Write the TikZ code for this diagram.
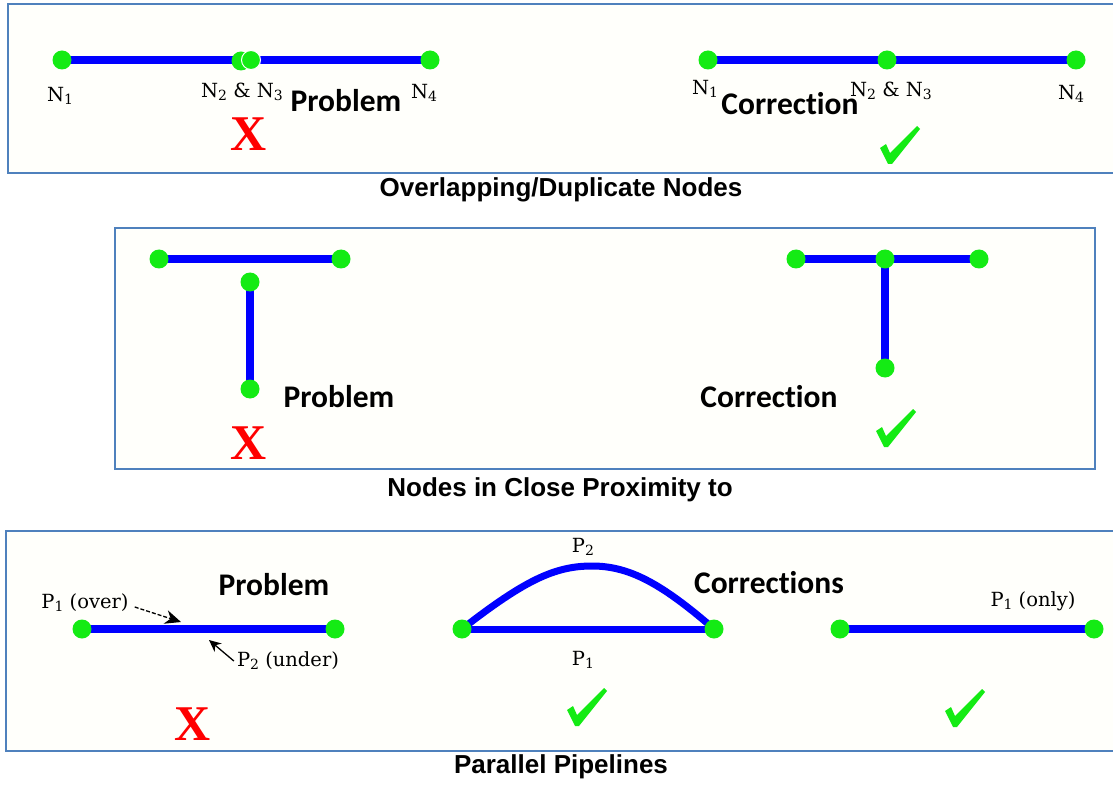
\documentclass[tikz,border=0pt]{standalone}
\usepackage{fontspec}
\setmainfont{DejaVu Serif}
\newfontfamily\calfont[Ligatures=NoCommon]{Carlito}
\newfontfamily\arialfont{Liberation Sans}
\usetikzlibrary{arrows.meta}
\pgfdeclarelayer{boxes}
\pgfdeclarelayer{lines}
\pgfsetlayers{boxes,lines,main}
\definecolor{boxblue}{RGB}{79,129,189}
\definecolor{dotgreen}{RGB}{20,235,20}
\definecolor{pipeblue}{RGB}{0,0,255}
\definecolor{cream}{RGB}{255,255,251}
\definecolor{xred}{RGB}{255,0,0}
\newcommand{\lsub}[1]{\raisebox{-0.3ex}{\fontsize{14}{14}\selectfont #1}}
\tikzset{
  dot/.style={circle,fill=dotgreen,minimum size=19pt,inner sep=0pt},
  pipe/.style={draw=pipeblue,line width=8pt},
  framebox/.style={draw=boxblue,line width=1.6pt,fill=cream},
  lbl/.style={font=\fontsize{19.5}{19.5}\selectfont,inner sep=0pt},
  big/.style={font=\fontsize{31.5}{31.5}\selectfont\calfont\bfseries,inner sep=0pt},
  ttl/.style={font=\fontsize{26}{26}\selectfont\arialfont\bfseries,inner sep=0pt},
  cross/.style={font=\fontsize{50}{50}\selectfont\bfseries\fontspec{Liberation Serif},text=xred,inner sep=0pt},
  chk/.pic={\fill[dotgreen] (-20,3) -- (-14,-1) -- (-10,8) -- (17,-19) -- (20,-16) -- (-8,19) -- (-12,19) -- cycle;}
}
\begin{document}
\begin{tikzpicture}[x=1pt,y=-1pt]
\useasboundingbox (0,0) rectangle (1113,786);
\begin{pgfonlayer}{boxes}
\fill[white] (0,0) rectangle (1113,786);
\filldraw[framebox] (1115,4) -- (8,4) -- (8,173) -- (1115,173);
\filldraw[framebox] (115,228) rectangle (1095,469);
\filldraw[framebox] (1115,531) -- (6,531) -- (6,751) -- (1115,751);
\end{pgfonlayer}

% ---- Box 1: Overlapping/Duplicate Nodes ----
\node[dot] (a1) at (62,60) {};
\node[dot] (a2) at (241,61) {};
\node[dot,draw=white,line width=1pt] (a3) at (251,60) {};
\node[dot] (a4) at (430,60) {};
\node[lbl] (la1) at (60,96) {N\lsub{1}};
\node[lbl] (la23) at (242,92) {N\lsub{2} \& N\lsub{3}};
\node[lbl] (la4) at (424,93) {N\lsub{4}};
\node[big] (prob1) at (346,101) {Problem};
\node[cross] (x1) at (249,134) {X};

\node[dot] (b1) at (708,60) {};
\node[dot] (b2) at (887,60) {};
\node[dot] (b3) at (1076,60) {};
\node[lbl] (lb1) at (705,89) {N\lsub{1}};
\node[lbl] (lb23) at (891,91) {N\lsub{2} \& N\lsub{3}};
\node[lbl] (lb4) at (1071,94) {N\lsub{4}};
\node[big] (corr1) at (790,104) {Correction};
\pic at (900,145) {chk};
\node[ttl] (t1) at (561,190) {Overlapping/Duplicate Nodes};

\begin{pgfonlayer}{lines}
\draw[pipe] (a1.center) -- (a1.center -| a2.center);
\draw[pipe] (a3.center) -- (a4.center);
\draw[pipe] (b1.center) -- (b2.center) -- (b3.center);
\end{pgfonlayer}

% ---- Box 2: Nodes in Close Proximity ----
\node[dot] (c1) at (159,259) {};
\node[dot] (c2) at (341,259) {};
\node[dot] (c3) at (250,282) {};
\node[dot] (c4) at (250,389) {};
\node[big] (prob2) at (339,397) {Problem};
\node[cross] (x2) at (249,443) {X};

\node[dot] (d1) at (796,259) {};
\node[dot] (d2) at (885,259) {};
\node[dot] (d3) at (979,259) {};
\node[dot] (d4) at (885,368) {};
\node[big] (corr2) at (769,397) {Correction};
\pic at (896,428) {chk};
\node[ttl] (t2) at (560,490) {Nodes in Close Proximity to};

\begin{pgfonlayer}{lines}
\draw[pipe] (c1.center) -- (c2.center);
\draw[pipe] (c3.center) -- (c4.center);
\draw[pipe] (d1.center) -- (d2.center) -- (d3.center);
\draw[pipe] (d2.center) -- (d4.center);
\end{pgfonlayer}

% ---- Box 3: Parallel Pipelines ----
\node[dot] (p1) at (82,629) {};
\node[dot] (p2) at (335,629) {};
\node[big] (prob3) at (274,585) {Problem};
\node[lbl] (over) at (85,603) {P\lsub{1} (over)};
\node[lbl] (under) at (288,661) {P\lsub{2} (under)};
\coordinate (overtip) at (181,622);
\coordinate (undertip) at (209,640);
\draw[dash pattern=on 4pt off 2pt,line width=1.3pt,-{Stealth[length=16pt,width=14pt]}] (over.east) ++(6,4) -- (overtip);
\draw[line width=1.3pt,-{Stealth[length=12pt,width=11pt]}] (under.west) ++(-3,0) -- (undertip);
\node[cross] (x3) at (193,724) {X};

\node[dot] (q1) at (462,629) {};
\node[dot] (q2) at (714,629) {};
\node[lbl] (lp2) at (583,547) {P\lsub{2}};
\node[lbl] (lp1) at (583,660) {P\lsub{1}};
\pic at (587,707) {chk};
\node[big] (corr3) at (769,583) {Corrections};

\node[dot] (r1) at (840,629) {};
\node[dot] (r2) at (1094,629) {};
\node[lbl] (only) at (1033,601) {P\lsub{1} (only)};
\pic at (965,708) {chk};
\node[ttl] (t3) at (561,767) {Parallel Pipelines};

\begin{pgfonlayer}{lines}
\draw[pipe] (p1.center) -- (p2.center);
\draw[pipe,line width=7pt] (q1.center) -- (q2.center);
\draw[pipe,line width=7pt] (q1.center) .. controls (525,580) and (555,566) .. (592,566) .. controls (628,566) and (660,582) .. (q2.center);
\draw[pipe] (r1.center) -- (r2.center);
\end{pgfonlayer}
\end{tikzpicture}
\end{document}
